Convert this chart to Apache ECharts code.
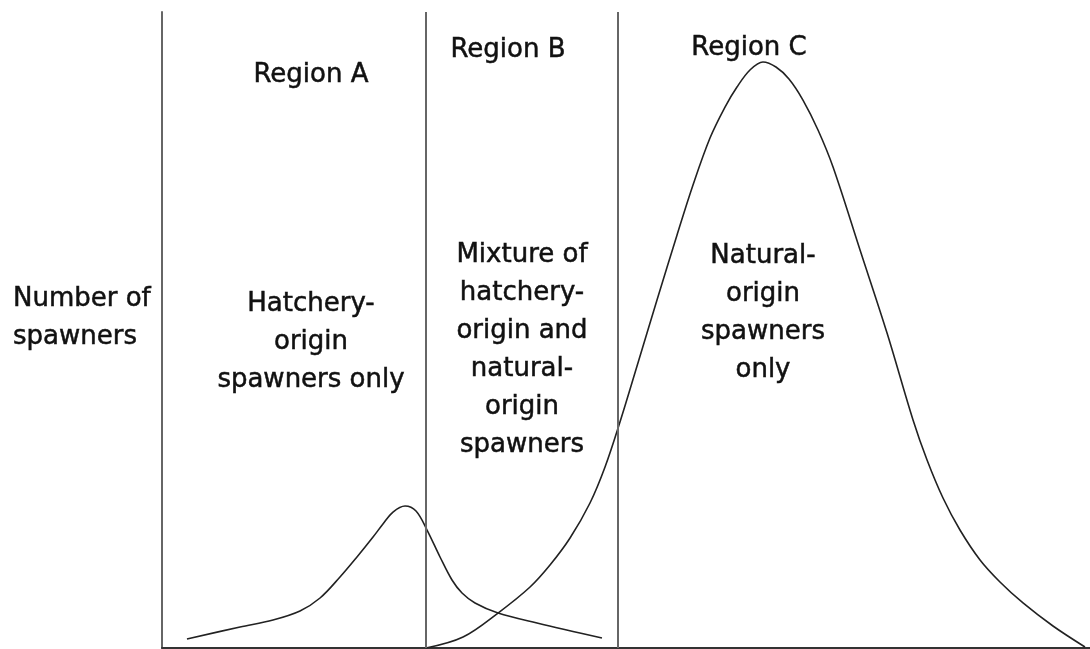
<!DOCTYPE html>
<html>
<head>
<meta charset="utf-8">
<title>Spawners by region</title>
<script src="https://cdn.jsdelivr.net/npm/echarts@6/dist/echarts.min.js"></script>
<style>
  html, body { margin: 0; padding: 0; background: #fff; }
  #chart { width: 1090px; height: 649px; }
</style>
</head>
<body>
<div id="chart"></div>
<script>
// 孵化場來源曲線（x, y 皆為 0–100 的相對刻度）
const hatcheryX = [2.69, 8.41, 11.96, 14.87, 17.03, 19.18, 21.01, 22.74, 23.81, 24.89, 26.19, 27.37, 28.56, 29.96,
                   31.25, 32.33, 33.73, 36.21, 40.41, 47.41]
const hatcheryY = [1.42, 3.30, 4.40, 5.82, 7.86, 11.16, 14.31, 17.45, 19.50, 21.38, 22.33, 21.54, 18.55, 14.31,
                   10.69, 8.65, 7.08, 5.50, 3.93, 1.57]

// 自然來源曲線
const naturalX = [28.45, 32.44, 36.21, 39.66, 41.81, 43.97, 46.12, 47.74, 49.35, 51.19, 53.34, 55.50, 57.22, 59.05,
                  60.67, 61.96, 63.36, 64.76, 66.16, 67.56, 69.07, 70.69, 72.31, 75.22, 78.13, 80.93, 82.44, 84.16,
                  85.99, 88.15, 90.30, 92.78, 96.01, 99.46]
const naturalY = [0, 1.73, 5.50, 9.59, 13.05, 17.30, 22.80, 28.46, 35.53, 44.34, 54.72, 64.94, 72.80, 80.19,
                  85.06, 88.21, 90.88, 92.14, 91.35, 89.47, 86.16, 81.45, 75.63, 62.58, 49.53, 35.85, 29.56, 23.58,
                  18.55, 13.84, 10.38, 7.08, 3.46, 0.16]

// 區域分隔線位置
const dividers = [28.45, 49.14]

const regionLabels = ['Region A', 'Region B', 'Region C']
const regionTexts = [
  'Hatchery-\norigin\nspawners only',
  'Mixture of\nhatchery-\norigin and\nnatural-\norigin\nspawners',
  'Natural-\norigin\nspawners\nonly',
]
const yAxisTitle = 'Number of\nspawners'

const zip = (xs, ys) => xs.map((x, i) => [x, ys[i]])

const chart = echarts.init(document.getElementById('chart'))

// 文字樣式：略加描邊讓字重接近原圖
const font = { fontFamily: 'DejaVu Sans', fontSize: 26, fill: '#111', stroke: '#111', lineWidth: 0.5 }

const textEl = (text, x, y, align) => ({
  type: 'text',
  x, y,
  style: Object.assign({ text, textAlign: align || 'center', textVerticalAlign: 'middle', lineHeight: 38 }, font),
})

chart.setOption({
  animation: false,
  grid: { left: 162, right: 0, top: 12, bottom: 1 },
  xAxis: {
    type: 'value', min: 0, max: 100,
    axisLine: { show: true, lineStyle: { color: '#333', width: 2 } },
    axisTick: { show: false }, axisLabel: { show: false }, splitLine: { show: false },
  },
  yAxis: {
    type: 'value', min: 0, max: 100,
    axisLine: { show: true, lineStyle: { color: '#666', width: 2 } },
    axisTick: { show: false }, axisLabel: { show: false }, splitLine: { show: false },
  },
  series: [
    {
      type: 'line',
      data: zip(hatcheryX, hatcheryY),
      smooth: 0.35,
      showSymbol: false,
      lineStyle: { color: '#222', width: 1.6 },
      markLine: {
        silent: true,
        symbol: 'none',
        label: { show: false },
        lineStyle: { color: '#666', width: 2, type: 'solid' },
        data: dividers.map(v => ({ xAxis: v })),
      },
    },
    {
      type: 'line',
      data: zip(naturalX, naturalY),
      smooth: 0.35,
      showSymbol: false,
      lineStyle: { color: '#222', width: 1.6 },
    },
  ],
  graphic: [
    textEl(regionLabels[0], 311, 75),
    textEl(regionLabels[1], 508, 50),
    textEl(regionLabels[2], 749, 48),
    textEl(regionTexts[0], 311, 342),
    textEl(regionTexts[1], 522, 350),
    textEl(regionTexts[2], 763, 313),
    textEl(yAxisTitle, 13, 318, 'left'),
  ],
})
</script>
</body>
</html>
